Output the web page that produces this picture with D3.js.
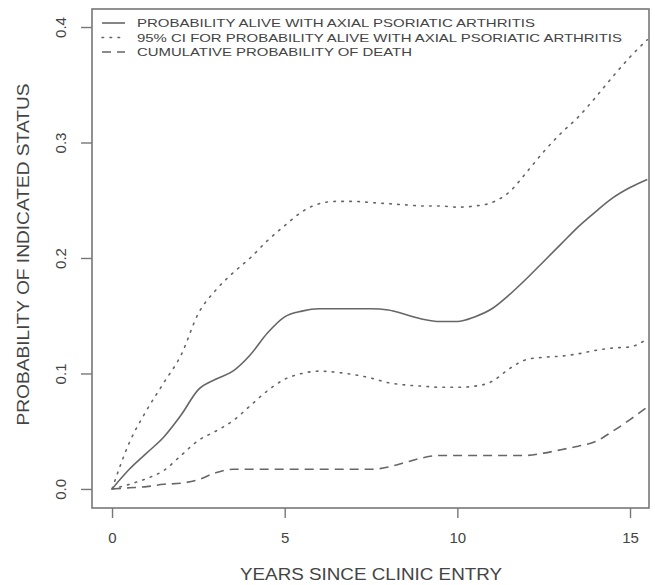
<!DOCTYPE html>
<html>
<head>
<meta charset="utf-8">
<script src="https://cdn.jsdelivr.net/npm/d3@7"></script>
<style>
  body { margin: 0; background: #fff; }
  svg text { font-family: "Liberation Sans", Arial, Helvetica, sans-serif; fill: #444; }
</style>
</head>
<body>
<div id="chart"></div>
<script>
// years since clinic entry (shared grid for every curve)
const years = [0, 0.5, 1, 1.5, 2, 2.5, 3, 3.5, 4, 4.5, 5, 5.5, 6, 6.5, 7, 7.5,
  8, 8.5, 9, 9.5, 10, 10.5, 11, 11.5, 12, 12.5, 13, 13.5, 14, 14.5, 15, 15.5];

const probAlive = [0, 0.017, 0.031, 0.045, 0.064, 0.086, 0.095, 0.102, 0.116, 0.135, 0.149, 0.154, 0.156, 0.156, 0.156, 0.156,
  0.155, 0.151, 0.147, 0.145, 0.145, 0.149, 0.156, 0.168, 0.182, 0.197, 0.212, 0.227, 0.240, 0.252, 0.261, 0.268];

const ciUpper = [0, 0.040, 0.068, 0.092, 0.116, 0.152, 0.172, 0.187, 0.200, 0.215, 0.228, 0.240, 0.247, 0.249, 0.249, 0.248,
  0.247, 0.246, 0.245, 0.245, 0.244, 0.245, 0.248, 0.257, 0.274, 0.292, 0.308, 0.322, 0.339, 0.357, 0.374, 0.389];

const ciLower = [0, 0.004, 0.009, 0.016, 0.029, 0.042, 0.050, 0.059, 0.072, 0.085, 0.095, 0.100, 0.102, 0.101, 0.099, 0.096,
  0.092, 0.090, 0.089, 0.088, 0.088, 0.089, 0.093, 0.104, 0.112, 0.114, 0.115, 0.117, 0.120, 0.122, 0.123, 0.130];

const cumDeath = [0, 0.001, 0.002, 0.004, 0.005, 0.008, 0.014, 0.017, 0.017, 0.017, 0.017, 0.017, 0.017, 0.017, 0.017, 0.017,
  0.019, 0.023, 0.027, 0.029, 0.029, 0.029, 0.029, 0.029, 0.029, 0.031, 0.034, 0.037, 0.041, 0.050, 0.060, 0.071];

const xTicks = [0, 5, 10, 15];
const yTicks = [0, 0.1, 0.2, 0.3, 0.4];

const legendLabels = [
  "PROBABILITY ALIVE WITH AXIAL PSORIATIC ARTHRITIS",
  "95% CI FOR PROBABILITY ALIVE WITH AXIAL PSORIATIC ARTHRITIS",
  "CUMULATIVE PROBABILITY OF DEATH"
];

const margin = {top: 9, right: 6, bottom: 77, left: 92};
const width = 655 - margin.left - margin.right;
const height = 585 - margin.top - margin.bottom;

const xScale = d3.scaleLinear().domain([-0.58, 15.55]).range([0, width]);
const yScale = d3.scaleLinear().domain([-0.0165, 0.4156]).range([height, 0]);

const ink = "#666";

const svg = d3.select("#chart")
  .append("svg")
  .attr("width", 655)
  .attr("height", 585);

const g = svg.append("g")
  .attr("transform", `translate(${margin.left},${margin.top})`);

// plot box
g.append("rect")
  .attr("width", width)
  .attr("height", height)
  .attr("fill", "none")
  .attr("stroke", "#777")
  .attr("stroke-width", 1.6);

const xAxis = d3.axisBottom(xScale).tickValues(xTicks).tickSize(10).tickPadding(10).tickFormat(d3.format("d"));
const yAxis = d3.axisLeft(yScale).tickValues(yTicks).tickSize(11).tickFormat(d3.format(".1f"));

const x_axis = g.append("g")
  .attr("transform", `translate(0,${height})`)
  .call(xAxis);
x_axis.select(".domain").remove();
x_axis.selectAll("line").attr("stroke", "#777").attr("stroke-width", 1.4);
x_axis.selectAll("text").attr("font-size", 15).attr("fill", "#444").attr("dy", "0.35em").attr("y", 30);

const y_axis = g.append("g").call(yAxis);
y_axis.select(".domain").remove();
y_axis.selectAll("line").attr("stroke", "#777").attr("stroke-width", 1.4);
y_axis.selectAll("text")
  .attr("font-size", 15)
  .attr("fill", "#444")
  .attr("x", null).attr("dy", null)
  .attr("text-anchor", "middle")
  .attr("dominant-baseline", "central")
  .attr("transform", `translate(${60 - margin.left},0) rotate(-90)`);

// axis titles
g.append("text")
  .attr("x", xScale(7.5))
  .attr("y", height + 66)
  .attr("text-anchor", "middle")
  .attr("dominant-baseline", "central")
  .attr("font-size", 17)
  .attr("textLength", 262)
  .attr("lengthAdjust", "spacingAndGlyphs")
  .text("YEARS SINCE CLINIC ENTRY");

g.append("text")
  .attr("transform", `translate(${23 - margin.left},${height / 2 - 4}) rotate(-90)`)
  .attr("text-anchor", "middle")
  .attr("dominant-baseline", "central")
  .attr("font-size", 17)
  .attr("textLength", 342)
  .attr("lengthAdjust", "spacingAndGlyphs")
  .text("PROBABILITY OF INDICATED STATUS");

// curves
const series = [
  {values: ciUpper, dash: "1.6,6.4", cap: "round"},
  {values: ciLower, dash: "1.6,6.4", cap: "round"},
  {values: cumDeath, dash: "9,6", cap: "butt"},
  {values: probAlive, dash: null, cap: "butt"}
];

const line = d3.line()
  .x((d, i) => xScale(years[i]))
  .y(d => yScale(d))
  .curve(d3.curveMonotoneX);

g.selectAll("path.curve")
  .data(series)
  .enter()
  .append("path")
  .attr("class", "curve")
  .attr("d", d => line(d.values))
  .attr("fill", "none")
  .attr("stroke", ink)
  .attr("stroke-width", 1.6)
  .attr("stroke-linecap", d => d.cap)
  .attr("stroke-dasharray", d => d.dash);

// legend
const legendStyles = [
  {dash: null, cap: "butt", len: 398},
  {dash: "1.6,6.4", cap: "round", len: 485},
  {dash: "9,6", cap: "butt", len: 275}
];

const legend = g.append("g")
  .attr("transform", `translate(${102 - margin.left},${23 - margin.top})`);

const rows = legend.selectAll("g")
  .data(legendLabels)
  .enter()
  .append("g")
  .attr("transform", (d, i) => `translate(0,${i * 14.5})`);

rows.append("line")
  .attr("x1", 0).attr("x2", 23)
  .attr("stroke", ink)
  .attr("stroke-width", 1.6)
  .attr("stroke-linecap", (d, i) => legendStyles[i].cap)
  .attr("stroke-dasharray", (d, i) => legendStyles[i].dash);

rows.append("text")
  .attr("x", 35)
  .attr("dominant-baseline", "central")
  .attr("font-size", 11.5)
  .attr("textLength", (d, i) => legendStyles[i].len)
  .attr("lengthAdjust", "spacingAndGlyphs")
  .text(d => d);
</script>
</body>
</html>
